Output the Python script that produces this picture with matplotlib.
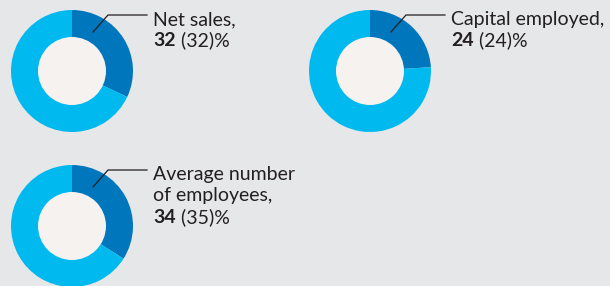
import matplotlib
matplotlib.use("Agg")
import matplotlib.pyplot as plt

# share of each metric (current year) and previous year in brackets
labels = ["Net sales,", "Capital employed,", "Average number\nof employees,"]
shares = [32, 24, 34]
prev = [32, 24, 35]

DARK, LIGHT, HOLE, BG, INK = "#0077bd", "#00b9ef", "#f5f2f0", "#e6e7e9", "#231f20"
plt.rcParams["font.family"] = ["Lato", "DejaVu Sans"]

fig = plt.figure(figsize=(6.1, 2.86), dpi=100, facecolor=BG)
ax = fig.add_axes([0, 0, 1, 1])
ax.set_facecolor(BG)

# donut centres in pixel space (y up)
centres = [(72, 215), (370, 215), (72, 60)]
R, r = 61, 34
FS = 14
for (cx, cy), lab, s, p in zip(centres, labels, shares, prev):
    ax.pie([s, 100 - s], colors=[DARK, LIGHT], startangle=90, counterclock=False,
           center=(cx, cy), radius=R, wedgeprops=dict(linewidth=0), frame=True)
    ax.add_patch(plt.Circle((cx, cy), r, color=HOLE, lw=0, zorder=5))
    # leader line
    x0, y0 = cx + 21, cy + 39
    x1, y1 = cx + 36, cy + 56
    x2 = cx + 75
    ax.plot([x0, x1, x2], [y0, y1, y1], color=INK, lw=0.9, zorder=6,
            solid_joinstyle="miter")
    tx = x2 + 6
    nlines = lab.count("\n") + 1
    base = y1 - 10
    for i, line in enumerate(lab.split("\n")):
        ax.text(tx, base - 21.5 * i, line, fontsize=FS, color=INK,
                va="baseline", ha="left")
    yb = base - 21.5 * nlines
    t = ax.text(tx, yb, f"{s}", fontsize=FS, color=INK, fontweight="bold",
                va="baseline", ha="left")
    ax.annotate(f" ({p})%", xy=(1, 0), xycoords=t, fontsize=FS, color=INK,
                va="bottom", ha="left")

ax.set_xlim(0, 610)
ax.set_ylim(0, 286)
ax.set_aspect("equal")
ax.axis("off")
fig.savefig("out.png", dpi=100, facecolor=BG)
